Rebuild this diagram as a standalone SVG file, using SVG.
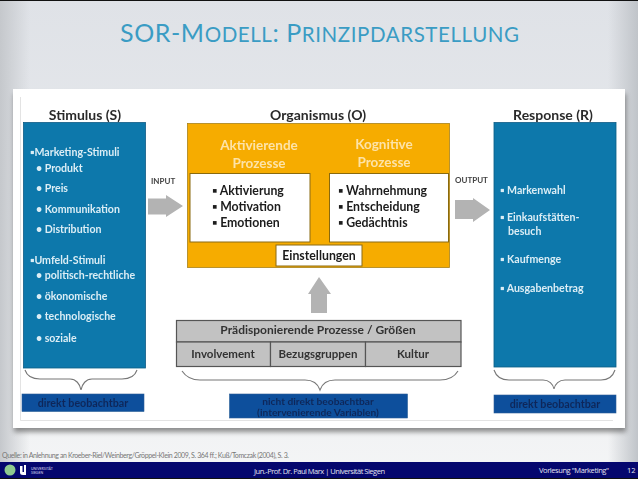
<svg xmlns="http://www.w3.org/2000/svg" width="638" height="479" viewBox="0 0 638 479">
<style>
text{font-family:Lato,"Open Sans","Liberation Sans",sans-serif}
.h{font-size:14px;font-weight:700;fill:#2a2a2a;text-anchor:middle}
.w{font-size:10.600px;font-weight:700;fill:#dcedf5}
.b{font-size:12.300px;font-weight:700;fill:#1c1c1c}
.o{font-size:13.500px;font-weight:700;fill:#fde3a8;text-anchor:middle}
.g{font-size:11.500px;font-weight:700;fill:#333;text-anchor:middle}
.s{font-size:8px;font-weight:700;fill:#444}
.d{font-size:10.700px;font-weight:700;fill:#08285a;text-anchor:middle}
.f{font-size:7.500px;fill:#e4e4f0;font-family:"Open Sans","Liberation Sans",sans-serif}
.blue{fill:#0a78ab;stroke:#0b5d85;stroke-width:.8}
.wb{fill:#fff;stroke:#8a6a10;stroke-width:1}
.grey{fill:#c2c2c2;stroke:#555;stroke-width:1.2}
.nb{fill:#0a4f9c;stroke:#2a5f96;stroke-width:.6}
.arr{fill:#b3b3b3}
.br{fill:none;stroke:#777;stroke-width:1.1}
</style>
<defs>
<linearGradient id="bg" x1="0" y1="0" x2="0" y2="1"><stop offset="0" stop-color="#dfe2e7"/><stop offset=".55" stop-color="#e9ebee"/><stop offset="1" stop-color="#f4f5f6"/></linearGradient>
<linearGradient id="edgeL" x1="0" y1="0" x2="1" y2="0"><stop offset="0" stop-color="#c5c8cc"/><stop offset="1" stop-color="#c5c8cc" stop-opacity="0"/></linearGradient>
<linearGradient id="edgeR" x1="1" y1="0" x2="0" y2="0"><stop offset="0" stop-color="#c0c4c9"/><stop offset="1" stop-color="#c0c4c9" stop-opacity="0"/></linearGradient>
<filter id="sh" x="-5%" y="-5%" width="110%" height="110%"><feGaussianBlur stdDeviation="2.500"/></filter>
<filter id="soft" x="-2%" y="-2%" width="104%" height="104%"><feGaussianBlur stdDeviation=".4"/></filter>
</defs>

<rect width="638" height="479" fill="url(#bg)"/>
<rect width="30" height="462" fill="url(#edgeL)"/>
<rect x="608" width="30" height="462" fill="url(#edgeR)"/>
<rect width="638" height="1" fill="#111"/>

<text x="120" y="41.500" font-size="25" fill="#3a9cc4" font-weight="400" textLength="399">SOR-M<tspan font-size="20.500">ODELL</tspan>: P<tspan font-size="20.500">RINZIPDARSTELLUNG</tspan></text>

<rect x="14" y="94" width="612" height="338" fill="#555" opacity=".65" filter="url(#sh)"/>
<rect x="13" y="89" width="612" height="339" fill="#fff"/>
<path d="M20.500 97V420.500H613" fill="none" stroke="#dcdcdc" stroke-width=".8"/>

<g filter="url(#soft)">
<g id="stimulus">
<text class="h" x="85" y="120">Stimulus (S)</text>
<rect class="blue" x="23.500" y="122.500" width="122" height="245.500"/>
<text class="w"><tspan x="30" y="156">▪Marketing-Stimuli</tspan><tspan x="36" y="172">• Produkt</tspan><tspan x="36" y="192">• Preis</tspan><tspan x="36" y="213">• Kommunikation</tspan><tspan x="36" y="233">• Distribution</tspan><tspan x="30" y="264">▪Umfeld-Stimuli</tspan><tspan x="36" y="279">• politisch-rechtliche</tspan><tspan x="36" y="300">• ökonomische</tspan><tspan x="36" y="320">• technologische</tspan><tspan x="36" y="342">• soziale</tspan></text>
</g>
<g id="organismus">
<text class="h" x="318" y="120">Organismus (O)</text>
<rect x="187.500" y="123.500" width="262" height="144" fill="#f6ac00" stroke="#a8821c" stroke-width=".8"/>
<text class="o"><tspan x="259" y="150">Aktivierende</tspan><tspan x="259" y="168">Prozesse</tspan><tspan x="384" y="149">Kognitive</tspan><tspan x="384" y="167">Prozesse</tspan></text>
</g>
<g id="aktivierende-prozesse">
<rect class="wb" x="190" y="173.500" width="120" height="68.500"/>
<text class="b"><tspan x="212" y="195">▪ Aktivierung</tspan><tspan x="212" y="211">▪ Motivation</tspan><tspan x="212" y="227">▪ Emotionen</tspan></text>
</g>
<g id="kognitive-prozesse">
<rect class="wb" x="329.500" y="173.500" width="119" height="68.500"/>
<text class="b"><tspan x="338" y="195">▪ Wahrnehmung</tspan><tspan x="338" y="211">▪ Entscheidung</tspan><tspan x="338" y="227">▪ Gedächtnis</tspan></text>
</g>
<g id="einstellungen">
<rect class="wb" x="276" y="245" width="86" height="21"/>
<text class="b" x="319" y="260" text-anchor="middle">Einstellungen</text>
</g>
<g id="response">
<text class="h" x="553" y="120">Response (R)</text>
<rect class="blue" x="494" y="122.500" width="122" height="244.500"/>
<text class="w"><tspan x="500" y="194">▪ Markenwahl</tspan><tspan x="500" y="221">▪ Einkaufstätten-</tspan><tspan x="508" y="235">besuch</tspan><tspan x="500" y="263">▪ Kaufmenge</tspan><tspan x="500" y="292">▪ Ausgabenbetrag</tspan></text>
</g>
<g id="praedisponierende">
<rect class="grey" x="176.500" y="320.500" width="284.500" height="21.500"/>
<text class="g" x="318" y="334" style="font-size:12px">Prädisponierende Prozesse / Größen</text>
<rect class="grey" x="176.500" y="342" width="94" height="24.500"/>
<text class="g" x="223" y="358">Involvement</text>
<rect class="grey" x="270.500" y="342" width="95" height="24.500"/>
<text class="g" x="318" y="358">Bezugsgruppen</text>
<rect class="grey" x="365.500" y="342" width="95.500" height="24.500"/>
<text class="g" x="413" y="358">Kultur</text>
</g>
<g id="direkt-links">
<rect class="nb" x="22" y="394" width="122" height="17.500"/>
<text class="d" x="83" y="406.500">direkt beobachtbar</text>
</g>
<g id="nicht-direkt">
<rect class="nb" x="229.500" y="394" width="178" height="24"/>
<text class="d" style="font-size:10.200px"><tspan x="318" y="404.500">nicht direkt beobachtbar</tspan><tspan x="318" y="415.500">(intervenierende Variablen)</tspan></text>
</g>
<g id="direkt-rechts">
<rect class="nb" x="494" y="395" width="122" height="18"/>
<text class="d" x="555" y="407.500">direkt beobachtbar</text>
</g>
<text class="s" x="151" y="184">INPUT</text>
<text class="s" x="455" y="183">OUTPUT</text>
<g id="connectors">
<path class="arr" d="M148 198.500H166V195L183 206L166 217V214.500H148Z"/>
<path class="arr" d="M455 200H473V198L490 210L473 222V219H455Z"/>
<path class="arr" d="M319 277L331 294H327V313H311V294H308Z"/>
<path class="br" d="M25 370C27 376 32 379 40 379H70C76 379 80 384 81 390C82 384 86 379 92 379H122C130 379 135 376 137 370"/>
<path class="br" d="M182 371C186 377 192 380 200 380H305C313 380 318 384 320 390C322 384 327 380 335 380H440C450 380 455 376 458 371"/>
<path class="br" d="M494 370C496 376 501 380 509 380H543C549 380 553 384 554 389C555 384 559 380 565 380H601C609 380 613 376 615 370"/>
</g>
</g>

<text x="2" y="458" font-size="7" fill="#777" font-family="'Open Sans','Liberation Sans',sans-serif" textLength="287">Quelle: in Anlehnung an Kroeber-Riel/Weinberg/Gröppel-Klein 2009, S. 364 ff.; Kuß/Tomczak (2004), S. 3.</text>

<rect y="462" width="638" height="16" fill="#05076e"/>
<rect y="478" width="638" height="1" fill="#111"/>
<g id="logo">
<circle cx="10" cy="470" r="5.500" fill="#8fca8f"/>
<path d="M20 466V472.500Q20 475 23 475H26V465H24V472H22.500V466Z" fill="#fff"/>
<text x="31" y="469.500" font-size="3.500" fill="#dde" font-family="'Open Sans',sans-serif">UNIVERSITÄT</text>
<text x="31" y="473.500" font-size="3.500" fill="#dde" font-family="'Open Sans',sans-serif">SIEGEN</text>
</g>
<text class="f" x="254" y="474" textLength="131">Jun.-Prof. Dr. Paul Marx | Universität Siegen</text>
<text class="f" x="539" y="473" textLength="70">Vorlesung "Marketing"</text>
<text class="f" x="627" y="473">12</text>
</svg>
